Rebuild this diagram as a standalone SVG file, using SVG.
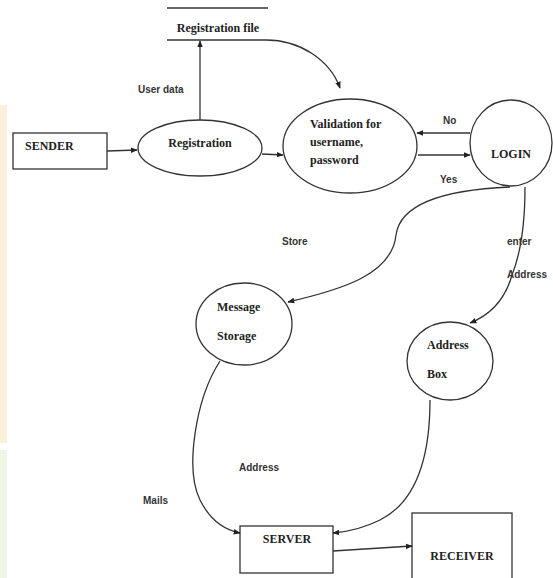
<svg xmlns="http://www.w3.org/2000/svg" width="553" height="578" viewBox="0 0 553 578">
<style>
.s{fill:none;stroke:#333;stroke-width:1.3}
.n{fill:#fff;stroke:#333;stroke-width:1.3}
.t{font-family:"Liberation Serif",serif;font-weight:bold;font-size:12px;fill:#222}
.l{font-family:"Liberation Sans",sans-serif;font-weight:bold;font-size:10px;fill:#333}
</style>
<defs>
<marker id="a" viewBox="0 0 10 10" refX="9" refY="5" markerWidth="7" markerHeight="7" orient="auto" markerUnits="userSpaceOnUse">
<path d="M0,1 L10,5 L0,9 z" fill="#222"/>
</marker>
</defs>
<rect width="553" height="578" fill="#fff"/>
<rect x="0" y="105" width="7" height="338" fill="#fdefdc"/>
<rect x="0" y="450" width="7" height="128" fill="#eef7e3"/>

<g id="registration-file">
<line class="s" x1="167" y1="8" x2="268" y2="8"/>
<line class="s" x1="167" y1="40" x2="266" y2="40"/>
<text class="t" x="218" y="32" text-anchor="middle" font-size="11">Registration file</text>
</g>
<g id="sender">
<rect class="n" x="13" y="133" width="94" height="36"/>
<text class="t" x="25" y="150">SENDER</text>
</g>
<g id="registration">
<ellipse class="n" cx="200" cy="148" rx="62" ry="28"/>
<text class="t" x="200" y="147" text-anchor="middle">Registration</text>
</g>
<g id="validation">
<ellipse class="n" cx="350" cy="146" rx="67" ry="47"/>
<text class="t" x="310" y="128">Validation for</text>
<text class="t" x="310" y="146">username,</text>
<text class="t" x="310" y="164">password</text>
</g>
<g id="login">
<ellipse class="n" cx="511" cy="143" rx="41" ry="43"/>
<text class="t" x="511" y="158" text-anchor="middle">LOGIN</text>
</g>
<g id="message-storage">
<ellipse class="n" cx="244" cy="324" rx="48" ry="41"/>
<text class="t" x="217" y="311">Message</text>
<text class="t" x="217" y="340">Storage</text>
</g>
<g id="address-box">
<ellipse class="n" cx="450" cy="361" rx="43" ry="39"/>
<text class="t" x="427" y="349">Address</text>
<text class="t" x="427" y="378">Box</text>
</g>
<g id="server">
<rect class="n" x="240" y="526" width="93" height="47"/>
<text class="t" x="287" y="543" text-anchor="middle">SERVER</text>
</g>
<g id="receiver">
<rect class="n" x="412" y="513" width="100" height="70"/>
<text class="t" x="462" y="560" text-anchor="middle">RECEIVER</text>
</g>

<g id="connectors">
<path class="s" d="M266,40 C300,40 330,60 340,88" marker-end="url(#a)"/>
<line class="s" x1="200" y1="120" x2="200" y2="41" marker-end="url(#a)"/>
<line class="s" x1="107" y1="151" x2="137" y2="150" marker-end="url(#a)"/>
<line class="s" x1="262" y1="154" x2="283" y2="155" marker-end="url(#a)"/>
<path class="s" d="M470,133 L470,133 L417,133" marker-end="url(#a)"/>
<line class="s" x1="418" y1="155" x2="470" y2="155" marker-end="url(#a)"/>
<path class="s" d="M510,187 C440,190 400,205 396,235 C392,275 340,290 288,302" marker-end="url(#a)"/>
<path class="s" d="M525,187 C525,230 520,255 512,275 C505,300 490,315 470,323" marker-end="url(#a)"/>
<path class="s" d="M220,361 C195,400 185,470 200,500 C210,520 225,530 240,533" marker-end="url(#a)"/>
<path class="s" d="M430,400 C430,450 420,500 380,520 C360,530 345,532 333,533" marker-end="url(#a)"/>
<line class="s" x1="333" y1="551" x2="412" y2="546" marker-end="url(#a)"/>
</g>

<g id="labels">
<text class="l" x="138" y="93">User data</text>
<text class="l" x="443" y="124">No</text>
<text class="l" x="440" y="183">Yes</text>
<text class="l" x="282" y="245">Store</text>
<text class="l" x="507" y="245">enter</text>
<text class="l" x="507" y="278">Address</text>
<text class="l" x="239" y="471">Address</text>
<text class="l" x="143" y="504">Mails</text>
</g>
</svg>
